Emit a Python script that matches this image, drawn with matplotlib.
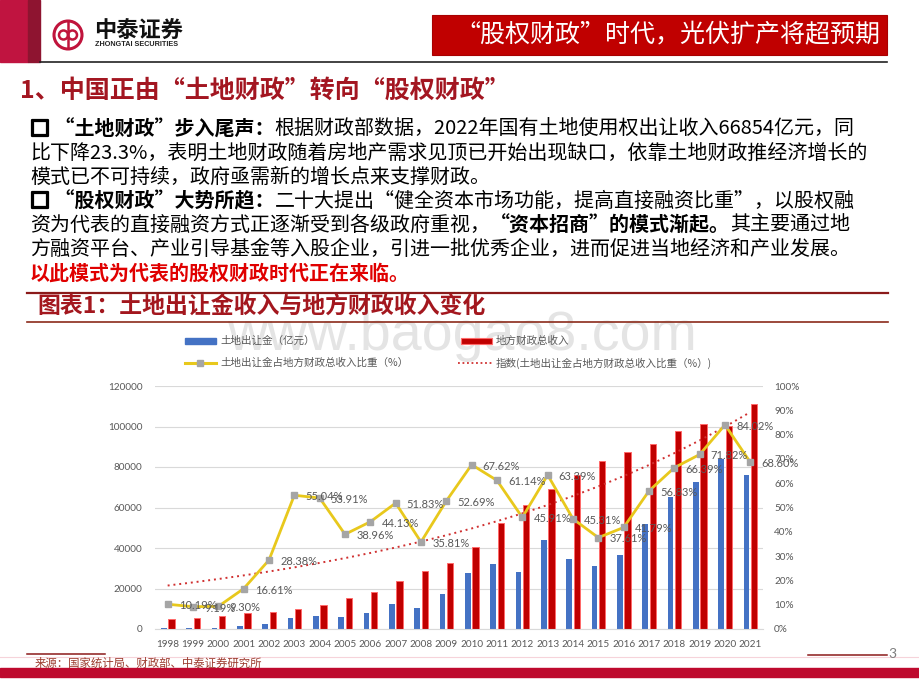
import numpy as np
import matplotlib
matplotlib.use('Agg')
import matplotlib.pyplot as plt
import matplotlib.patheffects as pe
from matplotlib.patches import Rectangle, Circle
from matplotlib.lines import Line2D

# ---------------- data ----------------
years = ['1998', '1999', '2000', '2001', '2002', '2003', '2004', '2005', '2006', '2007', '2008', '2009',
         '2010', '2011', '2012', '2013', '2014', '2015', '2016', '2017', '2018', '2019', '2020', '2021']
land = [507.7, 514.3, 595.6, 1295.9, 2416.8, 5421.3, 6412.2, 5883.8, 8077.6, 12216.7, 10259.8, 17179.5,
        27464.5, 32126.1, 28042.3, 43745.3, 34377.4, 31220.7, 36461.7, 51984.5, 65000.0, 72596.7, 84142.0, 76204.0]
revenue = [4984.0, 5594.9, 6406.1, 7803.3, 8515.0, 9850.0, 11893.4, 15100.8, 18303.6, 23572.6, 28649.8, 32602.6,
           40613.0, 52547.1, 61078.3, 69011.2, 75876.6, 83002.0, 87239.4, 91469.4, 97903.4, 101080.6, 100143.2, 111084.0]
ratio = [10.19, 9.19, 9.30, 16.61, 28.38, 55.04, 53.91, 38.96, 44.13, 51.83, 35.81, 52.69,
         67.62, 61.14, 45.91, 63.39, 45.31, 37.61, 41.79, 56.83, 66.39, 71.82, 84.02, 68.60]
left_ticks = [0, 20000, 40000, 60000, 80000, 100000, 120000]
right_ticks = [0, 10, 20, 30, 40, 50, 60, 70, 80, 90, 100]

legend_labels = ['土地出让金（亿元）', '地方财政总收入',
                 '土地出让金占地方财政总收入比重（%）', '指数(土地出让金占地方财政总收入比重（%）)']

header_title = '“股权财政”时代，光伏扩产将超预期'
section_title = '1、中国正由“土地财政”转向“股权财政”'
chart_title = '图表1：土地出让金收入与地方财政收入变化'
source_text = '来源：国家统计局、财政部、中泰证券研究所'

body_lines = [
    [('□', 'box', 'black'), (' “土地财政”步入尾声：', 'bold', 'black'),
     ('根据财政部数据，2022年国有土地使用权出让收入66854亿元，同', 'normal', 'black')],
    [('比下降23.3%，表明土地财政随着房地产需求见顶已开始出现缺口，依靠土地财政推经济增长的', 'normal', 'black')],
    [('模式已不可持续，政府亟需新的增长点来支撑财政。', 'normal', 'black')],
    [('□', 'box', 'black'), (' “股权财政”大势所趋：', 'bold', 'black'),
     ('二十大提出“健全资本市场功能，提高直接融资比重”，以股权融', 'normal', 'black')],
    [('资为代表的直接融资方式正逐渐受到各级政府重视，', 'normal', 'black'),
     ('“资本招商”的模式渐起。', 'bold', 'black'),
     ('其主要通过地', 'normal', 'black')],
    [('方融资平台、产业引导基金等入股企业，引进一批优秀企业，进而促进当地经济和产业发展。', 'normal', 'black')],
    [('以此模式为代表的股权财政时代正在来临。', 'bold', '#E00000')],
]

# ---------------- setup ----------------
CJK = ['Noto Sans CJK SC', 'DejaVu Sans']
NUM = ['Lato', 'DejaVu Sans']
plt.rcParams['font.family'] = CJK
W, H = 920, 690
fig = plt.figure(figsize=(W / 100, H / 100), dpi=100)
fig.patch.set_facecolor('white')

bg = fig.add_axes([0, 0, 1, 1], zorder=0)
bg.set_xlim(0, W)
bg.set_ylim(H, 0)
bg.axis('off')

# watermark
bg.text(462, 350, 'www.baogao8.com', fontsize=40, family=['Liberation Sans'], color='#E4E4E4',
        ha='center', va='baseline', zorder=0)

# header
bg.add_patch(Rectangle((0, 0), 28, 62, color='#C01440', zorder=1))
bg.add_patch(Rectangle((28, 0), 12, 62, color='#8E1430', zorder=1))
bg.add_line(Line2D([40, 887], [62, 62], color='#222222', lw=1.2))
bg.add_patch(Circle((68, 35), 14, fill=False, ec='#C0143C', lw=2.2))
bg.add_patch(Circle((63.5, 35), 4.5, fill=False, ec='#C0143C', lw=1.8))
bg.add_patch(Circle((72.5, 35), 4.5, fill=False, ec='#C0143C', lw=1.8))
bg.add_line(Line2D([68, 68], [22, 48], color='#C0143C', lw=1.8))
bg.text(94, 31, '中泰证券', fontsize=16, fontweight='bold', color='#111111', ha='left', va='center')
bg.text(95, 45, 'ZHONGTAI SECURITIES', fontsize=5.2, fontweight='bold', family=['Liberation Sans'],
        color='#222222', ha='left', va='center')
bg.add_patch(Rectangle((432, 15), 455, 40, fc='#C00000', ec='#A80000', lw=0.8))
bg.text(668, 35, header_title, fontsize=18, color='white', ha='center', va='center')

bg.text(20, 91, section_title, fontsize=18, fontweight='bold', color='#A31621', ha='left', va='center')

# body text with mixed weights
fig.canvas.draw()
renderer = fig.canvas.get_renderer()
line_y = [129, 153, 177, 201, 225, 249, 273]
for y, segs in zip(line_y, body_lines):
    x = 30
    for s, wgt, col in segs:
        if wgt == 'box':
            t = bg.text(x, y, s, fontsize=14.4, fontweight='bold', color=col, ha='left', va='center',
                        path_effects=[pe.withStroke(linewidth=1.6, foreground=col)])
        else:
            t = bg.text(x, y, s, fontsize=14.4, fontweight=wgt, color=col, ha='left', va='center')
        bb = t.get_window_extent(renderer=renderer)
        x += bb.width

# chart title block
bg.add_line(Line2D([27, 888], [293, 293], color='#8B1A1A', lw=1.6))
bg.add_line(Line2D([27, 888], [322, 322], color='#8B2A1A', lw=1.2))
bg.text(37, 307, chart_title, fontsize=16.5, fontweight='bold', color='#A3171E', ha='left', va='center')

# legend (manual)
bg.add_patch(Rectangle((185, 338), 31, 6, color='#4472C4'))
bg.add_patch(Rectangle((461, 338), 31, 6, fc='#C00000', ec='#FF6A6A', lw=0.8))
bg.add_line(Line2D([185, 216], [363, 363], color='#E8C81C', lw=2.2))
bg.add_line(Line2D([200.5], [363], marker='s', ms=5, mfc='#A5A5A5', mec='#A5A5A5', lw=0))
bg.add_line(Line2D([458, 492], [363, 363], color='#D03030', lw=1.3, ls=(0, (1, 1.5))))
leg_kw = dict(fontsize=7.6, color='#595959', ha='left', va='center')
bg.text(220, 341, legend_labels[0], **leg_kw)
bg.text(496, 341, legend_labels[1], **leg_kw)
bg.text(220, 363, legend_labels[2], **leg_kw)
bg.text(496, 363, legend_labels[3], **leg_kw)

# footer
bg.add_line(Line2D([0, 920], [656.5, 656.5], color='#F6D3DA', lw=0.8))
bg.add_line(Line2D([27, 105], [654, 654], color='#8B1A1A', lw=1.1))
bg.add_line(Line2D([808, 887], [655, 655], color='#8B1A1A', lw=1.1))
bg.text(888, 654, '3', fontsize=10, family=NUM, color='#7F7F7F', ha='left', va='center')
bg.text(35, 663, source_text, fontsize=8.2, color='#9C3B2E', ha='left', va='center')
bg.add_patch(Rectangle((0, 668), 920, 9, color='#BE0A2E'))

# ---------------- chart ----------------
ax = fig.add_axes([155 / W, 1 - 629 / H, 608 / W, 243 / H], zorder=2)
ax.patch.set_alpha(0)
x = np.arange(len(years))
ax.bar(x - 0.15, land, width=0.22, color='#4472C4', zorder=2)
ax.bar(x + 0.15, revenue, width=0.24, color='#C00000', edgecolor='#FF6A6A', linewidth=0.7, zorder=2)
ax.set_xlim(-0.5, len(years) - 0.5)
ax.set_ylim(0, 120000)
ax.set_yticks(left_ticks)
ax.set_yticklabels([str(v) for v in left_ticks])
ax.set_xticks(x)
ax.set_xticklabels(years)
ax.yaxis.grid(True, color='#D9D9D9', lw=0.8)
ax.set_axisbelow(True)
ax.tick_params(axis='both', length=0, colors='#595959')
ax.tick_params(axis='y', pad=9)
ax.tick_params(axis='x', pad=8)
for lab in ax.get_xticklabels() + ax.get_yticklabels():
    lab.set_family(NUM)
    lab.set_fontsize(7.2)
for s in ['top', 'left', 'right']:
    ax.spines[s].set_visible(False)
ax.spines['bottom'].set_color('#D9D9D9')

ax2 = ax.twinx()
ax2.set_ylim(0, 100)
ax2.set_yticks(right_ticks)
ax2.set_yticklabels([f'{v}%' for v in right_ticks])
ax2.tick_params(axis='y', length=0, colors='#595959', pad=8)
for lab in ax2.get_yticklabels():
    lab.set_family(NUM)
    lab.set_fontsize(7.2)
for s in ax2.spines.values():
    s.set_visible(False)

coef = np.polyfit(x, np.log(ratio), 1)
trend = np.exp(np.polyval(coef, x))
ax2.plot(x, trend, color='#D03030', lw=1.4, ls=(0, (1, 2)), zorder=3)
ax2.plot(x, ratio, color='#E8C81C', lw=2.0, marker='s', ms=5, mfc='#A5A5A5', mec='#A5A5A5', zorder=4)
for xi, r in zip(x, ratio):
    ax2.annotate(f'{r:.2f}%', (xi, r), xytext=(8, -1), textcoords='offset points',
                 fontsize=8, family=NUM, color='#595959', ha='left', va='center', zorder=5,
                 annotation_clip=False)

fig.savefig('out.png', dpi=100, facecolor='white')
